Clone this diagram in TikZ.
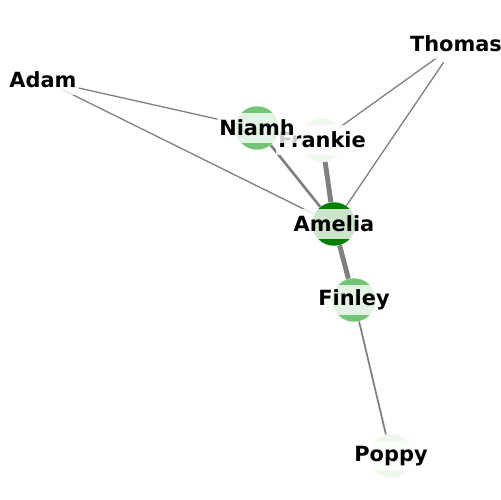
\documentclass[tikz,border=0pt]{standalone}
\usepackage{fontspec}
\setmainfont{DejaVu Sans}
\usetikzlibrary{backgrounds}
\definecolor{greens-0}{HTML}{FFFFFF}
\definecolor{greens-1}{HTML}{EFF8EC}
\definecolor{greens-5}{HTML}{74C476}
\definecolor{greens-9}{HTML}{008000}

\begin{document}
\begin{tikzpicture}[x=0.02cm, y=-0.02cm,
		person/.style={circle, minimum size=0.87cm, inner sep=0pt},
		nametag/.style={fill=white, fill opacity=0.8, text opacity=1, inner xsep=1.5pt, inner ysep=0pt, minimum height=0.6cm, font=\fontsize{11.9}{14}\selectfont\bfseries},
		tie/.style={draw=gray, line width=#1}]
			\useasboundingbox (0,0) rectangle (500,500);
			\node[person, fill=greens-0] (adam) at (43,80) {};
			\node[person, fill=greens-0] (thomas) at (456,44) {};
			\node[person, fill=greens-1] (frankie) at (322,140) {};
			\node[person, fill=greens-5] (niamh) at (257,128) {};
			\node[person, fill=greens-9] (amelia) at (334,224) {};
			\node[person, fill=greens-5] (finley) at (354,300) {};
			\node[person, fill=greens-1] (poppy) at (391,456) {};
			\begin{scope}[on background layer]
			\draw 
			(adam) edge[tie=0.75pt] (niamh)
			(adam) edge[tie=0.75pt] (amelia)
			(thomas) edge[tie=0.75pt] (frankie)
			(thomas) edge[tie=0.75pt] (amelia)
			(niamh) edge[tie=1.5pt] (amelia)
			(frankie) edge[tie=2.8pt] (amelia)
			(amelia) edge[tie=2.8pt] (finley)
			(finley) edge[tie=1pt] (poppy);
			\end{scope}
			%labels on top of the circles
			\node[nametag] (adam-name) at (adam) {Adam};
			\node[nametag] (thomas-name) at (thomas) {Thomas};
			\node[nametag] (frankie-name) at (frankie) {Frankie};
			\node[nametag] (niamh-name) at (niamh) {Niamh};
			\node[nametag] (amelia-name) at (amelia) {Amelia};
			\node[nametag] (finley-name) at (finley) {Finley};
			\node[nametag] (poppy-name) at (poppy) {Poppy};
		\end{tikzpicture}
\end{document}
